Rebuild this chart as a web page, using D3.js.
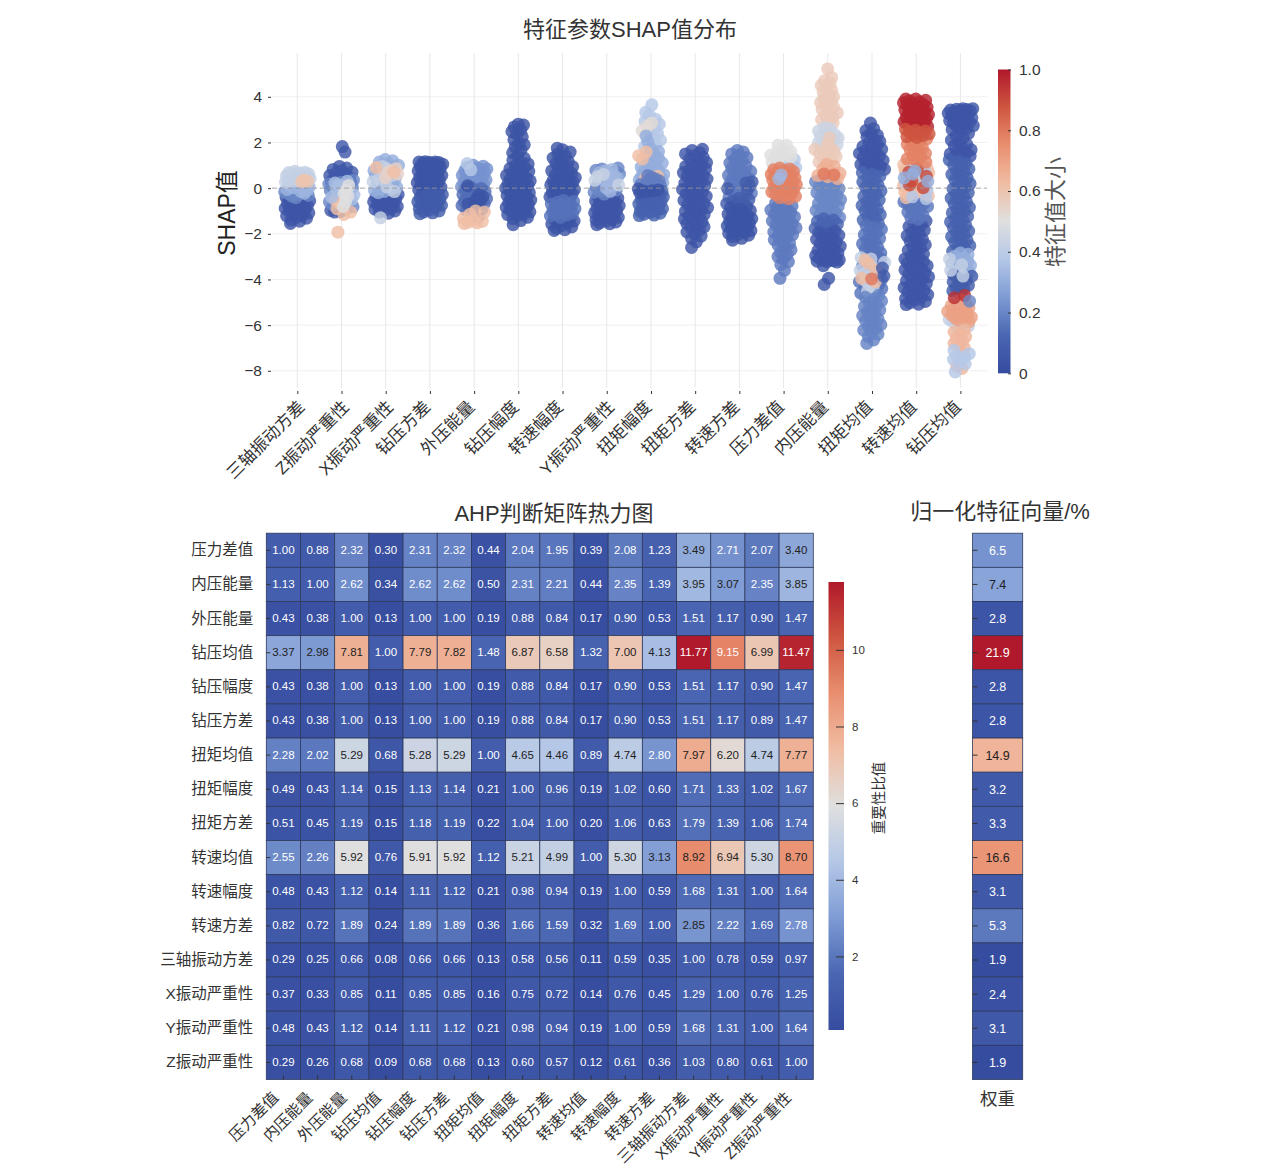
<!DOCTYPE html>
<html>
<head>
<meta charset="utf-8">
<title>SHAP AHP</title>
<script src="https://cdn.jsdelivr.net/npm/d3@7"></script>
<style>
  body{margin:0;background:#fff;}
  text{font-family:"Liberation Sans","Noto Sans CJK SC",sans-serif;}
</style>
</head>
<body>
<div id="chart"></div>
<script>
// 特征顺序(上图)
var shapFeatures=['三轴振动方差','Z振动严重性','X振动严重性','钻压方差','外压能量','钻压幅度','转速幅度','Y振动严重性','扭矩幅度','扭矩方差','转速方差','压力差值','内压能量','扭矩均值','转速均值','钻压均值'];
var shapTicks=[4,2,0,-2,-4,-6,-8];
var barTicks=[0,0.2,0.4,0.6,0.8,1];

// 每组: [特征值大小, [SHAP值...]]
var s_sanzhou=[
 [.05,[-1.55,-1.45,-1.4,-1.32,-1.28,-1.22,-1.18,-1.12,-1.08,-1.04,-1,-.96,-.92,-.88,-.84,-.8,-.76,-.72,-.68,-.64,-.6,-.56,-.52,-.48,-.44,-.4,-.36]],
 [.2,[-.32,-.28,-.24,-.2,-.16,-.36,-.42,-.12,-.08,-.04]],
 [.32,[-.22,-.14,-.06,.02,.08,.14,.2,-.1,.04,.12]],
 [.42,[.26,.32,.38,.42,.46,.5,.54,.58,.62,.66,.7,.74,.36,.44,.52,.6,.3,.68]],
 [.6,[.28,.36,.3]]];
var s_z=[
 [.06,[1.82,1.58,.95,.88,.82,.76,.7,.65,.6,.55,.5,.45,.4,.36,.32,.28,.24,.2,-1.02,-1.05,-.98]],
 [.2,[.18,.1,.02,.35,-.3,-.6,-.82,-.9,-.75,-.1,.26,-.2,-.45,-.68]],
 [.62,[-1.93,-.65,-.52,-1.15,-1.05,-.9]],
 [.35,[-.05,.05,-.2,-.4,.3,.15,-.5,.22,-.12,-.3]],
 [.5,[-.35,-.6,-.1,.12,-.8,-.25]]];
var s_x=[
 [.05,[-1.1,-1.05,-1,-.96,-.92,-.88,-.84,-.8,-.76,-.72,-.68,-.64,-.6,-.56,-.52,-.48,-.44,-.4,-.36,-.32,-.28,-.24]],
 [.3,[1.25,1.2,1.14,1.08,1,.92,.84,.76,.6,.52,.3,.22,.12,.04,-.06,-.14,-.2,.7,.42,.16,-.02,-.1]],
 [.42,[-1.3,.95,.72,.4,.05,-.15,.55,.28,.86]],
 [.55,[.85,.76,.65,.46,.62]],
 [.62,[.7,.9]]];
var s_zuanfang=[
 [.04,[1.16,1.15,1.14,1.13,1.12,1.1,1.08,1.05,1.02,.98,.95,.91,.88,.84,.8,.76,.72,.68,.64,.6,.56,.52,.48,.44,.4,.36,.32,.28,.24,.2,.16,.12,.08,.04,0,-.04,-.08,-.12,-.16,-.2]],
 [.07,[-.24,-.28,-.32,-.36,-.4,-.44,-.48,-.52,-.56,-.6,-.66,-.72,-.78,-.84,-.9,-.96,-1,-1.04,-1.08,-1.12,-.75,-.7,-.62]]];
var s_waiya=[
 [.23,[1.0,.96,.92,.88,.84,.8,.76,.72,.68,.64,.6,.56,.52,.48,.44,.4,.36,.32,.28,.24,.2,.16,.1,.06]],
 [.14,[.02,-.02,-.06,-.1,-.16,-.22,-.28,-.34,-.4,-.46,-.52,-.6,-.68,-.76,-.84,-.92,-.98]],
 [.04,[-.28,-.38,-.46,-.54,-.62,-.7,-.76,.1,-1.25]],
 [.62,[-1.55,-1.52,-1.5,-1.46,-1.4,-1.32,-1.14,-1.05,-1.0]],
 [.38,[1.08,.8]]];
var s_zuanfu=[
 [.04,[2.8,2.76,2.68,2.55,2.48,2.35,2.25,2.12,1.95,1.9,1.8,1.68,1.55,1.42,1.32,1.22,1.14,1.06,.98,.92,.86,.8,.74,.68,.62,.56,.5,.44,.4,.36,.32,.28,.24,.2,.16,.12,.08,.04,0,-.04,-.08,-.12,-.16,-.2,-.24,-.28,-.32,-.36,-.4,-.44,-.48,-.52,-.56,-.6,-.64,-.68,-.72,-.76,-.8,-.84,-.88,-.92,-.96,-1,-1.04,-1.08,-1.12,-1.16,-1.22,-1.28,-1.34,-1.42,-1.6]]];
var s_zhuanfu=[
 [.04,[1.75,1.68,1.58,1.5,1.4,1.32,1.24,1.16,1.08,1,.94,.88,.82,.76,.7,.64,.58,.52,.46,.42,.38,.34,.3,.26,.22,.18,.14,.1,.06,.02,-.02,-.06,-.1,-.14,-.18,-.22,-.26,-.3,-.34,-.38,-.42,-.46,-.5,-1.32,-1.36,-1.4,-1.44,-1.48,-1.52,-1.58,-1.64,-1.7,-1.76,-1.85,-1.82]],
 [.15,[-.54,-.58,-.62,-.66,-.7,-.74,-.78,-.82,-.86,-.9,-.94,-.98,-1.02,-1.06,-1.1,-1.14,-1.18,-1.22,-1.28]]];
var s_y=[
 [.05,[-1.6,-1.56,-1.52,-1.48,-1.44,-1.4,-1.36,-1.32,-1.28,-1.24,-1.2,-1.16,-1.12,-1.08,-1.04,-1,-.96,-.92,-.88,-.84,-.8,-.76,-.72,-.68,-.64,-.6,-.56,-.52,-.48,-.44,-.4,-.36,-.32]],
 [.2,[.88,.84,.78,.72,.62,.5,.38,.26,.14,.04,-.08,-.18,-.26,.68,.44,-.12]],
 [.33,[.82,.68,.56,.34,.2,0,-.14,.1,.76,.46,.28]],
 [.43,[.5,.34,.14,.6]]];
var s_niufu=[
 [.38,[3.65,3.2,3.32,3.02,2.92,2.8,2.62,2.5,2.4,2.2,2.1,1.92,1.82]],
 [.52,[2.85,2.7,2.52]],
 [.3,[2.28,2.02,1.72,1.6,1.48,1.3,1.2,1.1,1,.92,.84,.76,.68,.6,.52,.44,.36,.3,.24,1.38,1.05,.72]],
 [.62,[1.58,1.42,1.28,.52,.42]],
 [.18,[.55,.48,.4,.34,.28,.22,.16,.1,.05,0,.2,-.05,.12,.32]],
 [.1,[-.1,-.14,-.18,-.22,-.26,-.3,-.34,-.38,-.42,-.46,-.5,-.54,-.58,-.62,-.66,-.7,-.74,-.78,-.82,-.86,-.9,-.94,-.98,-1.02,-1.06,-1.1,-1.14,-1.18,-1.2]],
 [.04,[-.04,-.12,-.2,-.08,-.16]]];
var s_niufang=[
 [.05,[1.7,1.65,1.55,1.5,1.42,1.35,1.28,1.2,1.12,1.05,1,.95,.9,.84,.78,.72,.68,.62,.56,.5,.45,.4,.34,.28,.22,.18,.12,.06,0,-.06,-.12,-.18,-.24,-.3,-.35,-.42,-.48,-.54,-.6,-.66,-.72,-.78,-.85,-.9,-.96,-1.02,-1.08,-1.15,-1.2,-1.28,-1.35,-1.4,-1.48,-1.55,-1.62,-1.7,-1.75,-1.85,-1.92,-2,-2.1,-2.2,-2.35,-2.6]]];
var s_zhuanfang=[
 [.17,[1.65,1.58,1.5,1.42,1.34,1.26,1.18,1.1,1.02,.94,.86,.8,.74,.68,.62,.56,.5,.44,.38,.32,.26,.2,.14,.08,.02,-.04,-.1,-.16,-.22,-.28,-.34,-.4]],
 [.08,[.28,.1,-.08,-.02,.22,-.44,-.5,-.56,-.62,-.68,-.74,-.8]],
 [.04,[-.86,-.92,-.98,-1.04,-1.1,-1.14,-1.18,-1.22,-1.26,-1.3,-1.34,-1.38,-1.42,-1.46,-1.5,-1.54,-1.58,-1.62,-1.66,-1.7,-1.74,-1.78,-1.82,-1.86,-1.9,-1.94,-1.98,-2.02,-2.06,-2.12,-2.2,-2.28]]];
var s_yacha=[
 [.17,[-.66,-.72,-.78,-.84,-.9,-.96,-1.02,-1.08,-1.14,-1.2,-1.26,-1.32,-1.38,-1.44,-1.5,-1.56,-1.62,-1.68,-1.74,-1.8,-1.86,-1.92,-1.98,-2.04,-2.1,-2.18,-2.26,-2.34,-2.42,-2.5,-2.6,-2.7,-2.8,-2.9,-3.0,-3.1,-3.22,-3.35,-3.6,-3.95]],
 [.38,[1.05,.98,.92,.9,1.2,1.25,1.1,1.3]],
 [.5,[1.88,1.88,1.55,1.32,1.35,1.45,1.12,1.2,1.7,1.6,1.4,1.5]],
 [.78,[.88,.84,.8,.76,.72,.68,.64,.6,.56,.52,.48,.44,.4,.36,.32,.28,.24,.2,.16,.12,.08,.04,0,-.04,-.08,-.12,-.16,-.2,-.24,-.28,-.32,-.36,-.42,-.46]],
 [.33,[.58,.4]]];
var s_neiya=[
 [.58,[5.22,4.85,4.7,4.6,4.5,4.4,4.3,4.2,4.1,4.0,3.92,3.8,3.75,3.65,3.55,3.45,3.35,3.3,3.2,3.1,3.0,2.95,2.85]],
 [.44,[2.65,2.6,2.5,2.42,2.35,2.28,2.2,2.12,2.05,1.98,1.9,1.84]],
 [.58,[1.75,1.7,1.6,1.52,1.45,1.38,1.3,1.22,1.15,1.9,1.6,2.2]],
 [.2,[.4,.34,.28,.22,.16,.1,.04,-.02,-.08,-.14,-.2,-.26,-.32,-.38,-.44,-.5,-.56,-.62,-.68,-.74,-.8,-.86,-.92,-.98,-1.04,-1.1,-1.16,-1.22,-1.28]],
 [.11,[-1.34,-1.4,-1.46,-1.52,-1.58,-1.64,-1.7,-1.76,-1.82]],
 [.05,[-1.88,-1.94,-2,-2.06,-2.12,-2.18,-2.24,-2.3,-2.36,-2.42,-2.48,-2.54,-2.6,-2.66,-2.72,-2.78,-2.84,-2.88,-2.92,-2.96,-3,-3.04,-3.08,-3.12,-3.14,-3.16,-3.18,-3.2,-3.22,-3.24,-3.4,-3.95,-4.22]],
 [.66,[1.05,.95,.85,.75,.65,.55,.5,.42]],
 [.8,[.62,.58]]];
var s_niujun=[
 [.05,[2.85,2.6,2.52,2.4,2.32,2.25,2.15,2.05,1.98,1.9,1.82,1.76,1.7,1.64,1.58,1.52,1.46,1.4,1.34,1.28,1.22,1.16,1.1,1.04,.98,.94,.9,.86,.82,.78,.74]],
 [.12,[.68,.6,.52,.44,.36,.28,.2,.12,.04,-.04,-.12,-.2,-.28,-.36,-.44,-.52,-.6,-.68,-.76,-.84,-.92,-1,-1.08,-1.16,-1.24,-1.32,-1.4,-1.48,-1.56]],
 [.15,[-1.64,-1.72,-1.8,-1.88,-1.96,-2.04,-2.12,-2.2,-2.28,-2.36,-2.44,-2.52,-2.6,-2.68,-2.76,-2.84,-2.92,-3,-3.1,-3.2,-3.3,-3.4,-3.5,-3.6,-3.7,-3.8,-3.9,-4,-4.1,-4.2,-4.3,-4.4,-4.5,-4.6]],
 [.42,[-3.05,-3.1,-3.25,-3.45,-3.6,-3.75,-3.9,-4.05,-4.2,-4.35,-4.5,-4.65]],
 [.19,[-4.7,-4.78,-4.86,-4.94,-5.02,-5.1,-5.18,-5.26,-5.34,-5.42,-5.5,-5.58,-5.66,-5.74,-5.82,-5.9,-5.98,-6.06,-6.14,-6.22,-6.3,-6.4,-6.5,-6.65,-6.8]],
 [.62,[-3.3,-3.6,-3.95,-3.15,-4.1]],
 [.8,[-3.98]],
 [.08,[-3.85,-3.5]]];
var s_zhuanjun=[
 [.05,[-5.1,-5.08,-5.02,-4.96,-4.9,-4.84,-4.78,-4.72,-4.66,-4.6,-4.54,-4.48,-4.42,-4.36,-4.3,-4.24,-4.18,-4.12,-4.06,-4,-3.94,-3.88,-3.82,-3.76,-3.7,-3.64,-3.58,-3.52,-3.46,-3.4,-3.34,-3.28,-3.22,-3.16,-3.1,-3.04,-2.96,-2.88,-2.8,-2.72,-2.64,-2.56,-2.48,-2.4,-2.32,-2.24,-2.16,-2.08,-2,-1.92,-1.84,-1.76,-1.68,-1.6,-1.52,-1.44]],
 [.16,[-1.36,-1.28,-1.2,-1.12,-1.04,-.96,-.88,-.8,-.74,-.68,-.62,-.56,-.5,-.7,-.6,-.44,-.38,-.3]],
 [.62,[1.1,1.06,1.02,.98,.94,.9,.86,.8,.78,.7,.66,.62,.58,.54,.46,.42,.38,.34,.3,.22,.18,.14,.1,.06,-.02,-.06,-.1,-.14,-.18,-.22,-.26,-.3,-.34,-.42]],
 [.38,[-.46,-.38,.82,.72,.5,.38,-.1,.26]],
 [.9,[.86,.7,.52,.3,.14,.02]],
 [.78,[2.16,2.08,2,1.92,1.84,1.76,1.68,1.6,1.52,1.44,1.36,1.28,1.2,1.14]],
 [.98,[3.9,3.9,3.85,3.82,3.78,3.74,3.7,3.66,3.62,3.58,3.54,3.5,3.46,3.42,3.38,3.34,3.3,3.26,3.22,3.18,3.14,3.1,3.06,3.02,2.98,2.94,2.9,2.86,2.82,2.78,2.74,2.7,2.66,2.62]],
 [.88,[2.58,2.54,2.5,2.46,2.42,2.38,2.34,2.3,2.26,2.22]],
 [.3,[.75,.62,.45,.3]]];
var s_zuanjun=[
 [.05,[3.48,3.48,3.46,3.44,3.42,3.4,3.38,3.35,3.32,3.28,3.24,3.2,3.16,3.12,3.08,3.04,3,2.96,2.92,2.88,2.84,2.8,2.74,2.68,2.62,2.56,2.48,2.4,2.3,2.2,2.1,2,1.92,1.84,1.76,1.68,1.6,1.55,1.5,1.45,1.4,1.35,1.3]],
 [.1,[1.24,1.16,1.08,1,.92,.84,.76,.68,.6,.52,.44,.36,.28,.2,.12,.04,-.04,-.12,-.2,-.28,-.36,-.44,-.52,-.6,-.68,-.76,-.84,-.92,-1,-1.08,-1.16,-1.24,-1.32,-1.4,-1.48,-1.56,-1.64,-1.72,-1.8,-1.88,-1.96,-2.04,-2.12,-2.2,-2.28,-2.36,-2.44,-2.52,-2.6,-2.68,-2.76]],
 [.3,[-2.84,-2.9,-2.98,-3.06,-3.14,-3.22,-3.3,-3.38,-3.46,-3.54,-3.62,-3.7]],
 [.08,[-3.78,-3.86,-3.94,-4.02,-4.1,-4.18,-4.26,-4.34,-4.42,-4.5,-4.58]],
 [.42,[-3.1,-3.35,-3.6,-3.85]],
 [.42,[-5.75,-5.85,-5.95,-6.05,-6.15,-4.95,-5.2]],
 [.7,[-4.9,-5.05,-5.15,-5.25,-5.3,-5.35,-5.4,-5.45,-5.5,-5.55,-5.6,-5.65,-5.7,-5.75,-5.8,-5.85]],
 [.95,[-4.7,-4.8]],
 [.2,[-4.95]],
 [.64,[-6.2,-6.3,-6.4,-6.5,-6.6,-6.7,-6.8,-6.9,-7,-7.2,-7.8,-7.9]],
 [.38,[-7.1,-7.25,-7.4,-7.5,-7.6,-7.7,-8.05,-7.35]]];
var shapSeries=[s_sanzhou,s_z,s_x,s_zuanfang,s_waiya,s_zuanfu,s_zhuanfu,s_y,s_niufu,s_niufang,s_zhuanfang,s_yacha,s_neiya,s_niujun,s_zhuanjun,s_zuanjun];

// AHP 判断矩阵
var ahpRows=['压力差值','内压能量','外压能量','钻压均值','钻压幅度','钻压方差','扭矩均值','扭矩幅度','扭矩方差','转速均值','转速幅度','转速方差','三轴振动方差','X振动严重性','Y振动严重性','Z振动严重性'];
var ahpMatrix=[
 [1.00,0.88,2.32,0.30,2.31,2.32,0.44,2.04,1.95,0.39,2.08,1.23,3.49,2.71,2.07,3.40],
 [1.13,1.00,2.62,0.34,2.62,2.62,0.50,2.31,2.21,0.44,2.35,1.39,3.95,3.07,2.35,3.85],
 [0.43,0.38,1.00,0.13,1.00,1.00,0.19,0.88,0.84,0.17,0.90,0.53,1.51,1.17,0.90,1.47],
 [3.37,2.98,7.81,1.00,7.79,7.82,1.48,6.87,6.58,1.32,7.00,4.13,11.77,9.15,6.99,11.47],
 [0.43,0.38,1.00,0.13,1.00,1.00,0.19,0.88,0.84,0.17,0.90,0.53,1.51,1.17,0.90,1.47],
 [0.43,0.38,1.00,0.13,1.00,1.00,0.19,0.88,0.84,0.17,0.90,0.53,1.51,1.17,0.89,1.47],
 [2.28,2.02,5.29,0.68,5.28,5.29,1.00,4.65,4.46,0.89,4.74,2.80,7.97,6.20,4.74,7.77],
 [0.49,0.43,1.14,0.15,1.13,1.14,0.21,1.00,0.96,0.19,1.02,0.60,1.71,1.33,1.02,1.67],
 [0.51,0.45,1.19,0.15,1.18,1.19,0.22,1.04,1.00,0.20,1.06,0.63,1.79,1.39,1.06,1.74],
 [2.55,2.26,5.92,0.76,5.91,5.92,1.12,5.21,4.99,1.00,5.30,3.13,8.92,6.94,5.30,8.70],
 [0.48,0.43,1.12,0.14,1.11,1.12,0.21,0.98,0.94,0.19,1.00,0.59,1.68,1.31,1.00,1.64],
 [0.82,0.72,1.89,0.24,1.89,1.89,0.36,1.66,1.59,0.32,1.69,1.00,2.85,2.22,1.69,2.78],
 [0.29,0.25,0.66,0.08,0.66,0.66,0.13,0.58,0.56,0.11,0.59,0.35,1.00,0.78,0.59,0.97],
 [0.37,0.33,0.85,0.11,0.85,0.85,0.16,0.75,0.72,0.14,0.76,0.45,1.29,1.00,0.76,1.25],
 [0.48,0.43,1.12,0.14,1.11,1.12,0.21,0.98,0.94,0.19,1.00,0.59,1.68,1.31,1.00,1.64],
 [0.29,0.26,0.68,0.09,0.68,0.68,0.13,0.60,0.57,0.12,0.61,0.36,1.03,0.80,0.61,1.00]];
var ahpBarTicks=[2,4,6,8,10];
var weights=[6.5,7.4,2.8,21.9,2.8,2.8,14.9,3.2,3.3,16.6,3.1,5.3,1.9,2.4,3.1,1.9];

// 颜色
var cmapStops=['#364c9f','#4a66b2','#7e9bd4','#b4c7e7','#dfdfdf','#f0bda3','#e98f70','#cf5640','#b0182b'];
var cmapT=[0,.125,.25,.375,.5,.625,.75,.875,1];
var cmap=d3.scaleLinear().domain(cmapT).range(cmapStops).interpolate(d3.interpolateRgb).clamp(true);

var svg=d3.select('#chart').append('svg').attr('width',1270).attr('height',1172);
var defs=svg.append('defs');
function addGradient(id){
  var g=defs.append('linearGradient').attr('id',id).attr('x1',0).attr('x2',0).attr('y1',1).attr('y2',0);
  cmapT.forEach(function(t){ g.append('stop').attr('offset',t).attr('stop-color',cmap(t)); });
}
addGradient('cbar1');addGradient('cbar2');

function title(x,y,txt,size,color){
  return svg.append('text').attr('x',x).attr('y',y).attr('text-anchor','middle')
    .attr('font-size',size).attr('fill',color||'#333').text(txt);
}
function vtitle(x,y,txt,size,color){
  return svg.append('text').attr('transform','translate('+x+','+y+') rotate(-90)').attr('text-anchor','middle')
    .attr('font-size',size).attr('fill',color||'#333').text(txt);
}

/******* 上图 *******/
var x=d3.scalePoint().domain(shapFeatures).range([297.3,960.4]);
var y=d3.scaleLinear().domain([4,-8]).range([96.8,370.8]);
var top_=svg.append('g');
top_.selectAll('.hgrid').data(shapTicks).enter().append('line').attr('class','hgrid')
  .attr('x1',272).attr('x2',987).attr('y1',function(d){return y(d);}).attr('y2',function(d){return y(d);})
  .attr('stroke','#f0f0f0').attr('stroke-width',1);
top_.selectAll('.vgrid').data(shapFeatures).enter().append('line').attr('class','vgrid')
  .attr('x1',function(d){return x(d);}).attr('x2',function(d){return x(d);}).attr('y1',53).attr('y2',388)
  .attr('stroke','#e8e8e8').attr('stroke-width',1);

// 横向展开:宽度随局部点数变化,用黄金比序列铺开
function spread(vals){
  var idx=vals.map(function(v,i){return i;}).sort(function(a,b){return vals[a]-vals[b];}),off=new Array(vals.length);
  idx.forEach(function(i,n){
    var count=vals.filter(function(v){return Math.abs(v-vals[i])<=.2;}).length;
    var w=Math.min(13,2+count*1.6);
    var f=(n*0.618034)%1;
    off[i]=(f-.5)*2*w;
  });
  return off;
}
shapSeries.forEach(function(groups,fi){
  var flat=[];
  groups.forEach(function(g){g[1].forEach(function(v){flat.push({v:v,c:g[0]});});});
  var offs=spread(flat.map(function(p){return p.v;}));
  flat.forEach(function(p,i){p.dx=offs[i];});
  top_.append('g').selectAll('circle').data(flat).enter().append('circle')
    .attr('cx',function(d){return x(shapFeatures[fi])+d.dx;})
    .attr('cy',function(d){return y(d.v);})
    .attr('r',6.5)
    .attr('fill',function(d){return cmap(d.c);})
    .attr('fill-opacity',.82);
});
top_.append('line').attr('x1',272).attr('x2',987).attr('y1',y(0)).attr('y2',y(0))
  .attr('stroke','#999').attr('stroke-width',1).attr('stroke-dasharray','5,3').attr('opacity',.8);

var yAxisG=svg.append('g').attr('transform','translate(271,0)')
  .call(d3.axisLeft(y).tickValues(shapTicks).tickSize(3).tickPadding(6));
yAxisG.select('.domain').remove();
yAxisG.selectAll('text').attr('font-size',15.5).attr('fill','#333').style('font-family','"Liberation Sans"');
yAxisG.selectAll('line').attr('stroke','#333');

var xAxisG=svg.append('g').attr('transform','translate(0,391)').call(d3.axisBottom(x).tickSize(3));
xAxisG.select('.domain').remove();
xAxisG.selectAll('line').attr('stroke','#333');
xAxisG.selectAll('text').attr('font-size',17).attr('fill','#333').attr('text-anchor','end')
  .attr('dx',0).attr('dy',0).attr('x',0).attr('y',0)
  .attr('transform',function(d){return 'translate('+(d.length>4?8:1)+',17) rotate(-45)';});

title(630,37,'特征参数SHAP值分布',22);
vtitle(235,213,'SHAP值',23,'#222');

// 上图色条
var barY=d3.scaleLinear().domain([0,1]).range([373.3,69.5]);
svg.append('rect').attr('x',998).attr('y',69.5).attr('width',12.5).attr('height',303.8).attr('fill','url(#cbar1)');
var barAxis=svg.append('g').attr('transform','translate(1011,0)')
  .call(d3.axisRight(barY).tickValues(barTicks).tickSize(-3).tickPadding(8)
  .tickFormat(function(d){return d===0?'0':d3.format('.1f')(d);}));
barAxis.select('.domain').remove();
barAxis.selectAll('text').attr('font-size',15.5).attr('fill','#333');
barAxis.selectAll('line').attr('stroke','#333');
vtitle(1063,212,'特征值大小',22,'#555');

/******* 下图 *******/
var hx=d3.scaleBand().domain(d3.range(16)).range([266.3,813.3]);
var hy=d3.scaleBand().domain(d3.range(16)).range([533.2,1079.5]);
var hColor=d3.scaleLinear().domain([0.08,11.77]).range([0,1]);
var cells=[];
ahpMatrix.forEach(function(row,r){row.forEach(function(v,c){cells.push({r:r,c:c,v:v});});});
var heat=svg.append('g');
heat.selectAll('rect').data(cells).enter().append('rect')
  .attr('x',function(d){return hx(d.c);}).attr('y',function(d){return hy(d.r);})
  .attr('width',hx.bandwidth()).attr('height',hy.bandwidth())
  .attr('fill',function(d){return cmap(hColor(d.v));})
  .attr('stroke','#2e3a5e').attr('stroke-width',.8);
heat.selectAll('text').data(cells).enter().append('text')
  .attr('x',function(d){return hx(d.c)+hx.bandwidth()/2;})
  .attr('y',function(d){return hy(d.r)+hy.bandwidth()/2+3.5;})
  .attr('text-anchor','middle').attr('font-size',11.5)
  .attr('fill',function(d){return (d.v<2.83||d.v>9)?'#fff':'#222';})
  .text(function(d){return d3.format('.2f')(d.v);});

var rowAxis=d3.scaleBand().domain(ahpRows).range([533.2,1079.5]);
var colAxis=d3.scaleBand().domain(ahpRows).range([266.3,813.3]);
var hyAxis=svg.append('g').attr('transform','translate(266.3,0)').call(d3.axisLeft(rowAxis).tickSize(-4).tickPadding(13));
hyAxis.select('.domain').remove();
hyAxis.selectAll('line').attr('stroke','#333');
hyAxis.selectAll('text').attr('font-size',15.5).attr('fill','#333').style('font-family','"Liberation Sans","Noto Sans CJK SC"');
var hxAxis=svg.append('g').attr('transform','translate(0,1079.5)').call(d3.axisBottom(colAxis).tickSize(-4));
hxAxis.select('.domain').remove();
hxAxis.selectAll('line').attr('stroke','#333');
hxAxis.selectAll('text').attr('font-size',15.5).attr('fill','#333').attr('text-anchor','end')
  .attr('x',0).attr('y',0).attr('dy',0).attr('transform','translate(-4,19) rotate(-45)');

title(554,521,'AHP判断矩阵热力图',22);

// 下图色条
var hBarY=d3.scaleLinear().domain([0.08,11.77]).range([1030,582]);
svg.append('rect').attr('x',828.5).attr('y',582).attr('width',15.5).attr('height',448).attr('fill','url(#cbar2)');
var hBar=svg.append('g').attr('transform','translate(844,0)')
  .call(d3.axisRight(hBarY).tickValues(ahpBarTicks).tickSize(-8).tickPadding(8));
hBar.select('.domain').remove();
hBar.selectAll('line').attr('stroke','#333');
hBar.selectAll('text').attr('font-size',11.5).attr('fill','#333');
vtitle(884,798,'重要性比值',14.5,'#333');

// 权重列
var wColor=d3.scaleLinear().domain([1.9,21.9]).range([0,1]);
var weightG=svg.append('g');
weightG.selectAll('rect').data(weights).enter().append('rect')
  .attr('x',972.5).attr('width',50.2)
  .attr('y',function(d,i){return hy(i);}).attr('height',hy.bandwidth())
  .attr('fill',function(d){return cmap(wColor(d));})
  .attr('stroke','#2e3a5e').attr('stroke-width',.8);
weightG.selectAll('text').data(weights).enter().append('text')
  .attr('x',997.6).attr('y',function(d,i){return hy(i)+hy.bandwidth()/2+4.5;})
  .attr('text-anchor','middle').attr('font-size',12.5)
  .attr('fill',function(d){return (d>7&&d<18)?'#222':'#fff';})
  .text(function(d){return d3.format('.1f')(d);});
var wAxis=svg.append('g').attr('transform','translate(972.5,0)').call(d3.axisLeft(rowAxis).tickSize(-5).tickFormat(''));
wAxis.select('.domain').remove();
wAxis.selectAll('line').attr('stroke','#333');
title(1000,519,'归一化特征向量/%',22);
title(997.6,1105,'权重',17.5);
</script>
</body>
</html>
